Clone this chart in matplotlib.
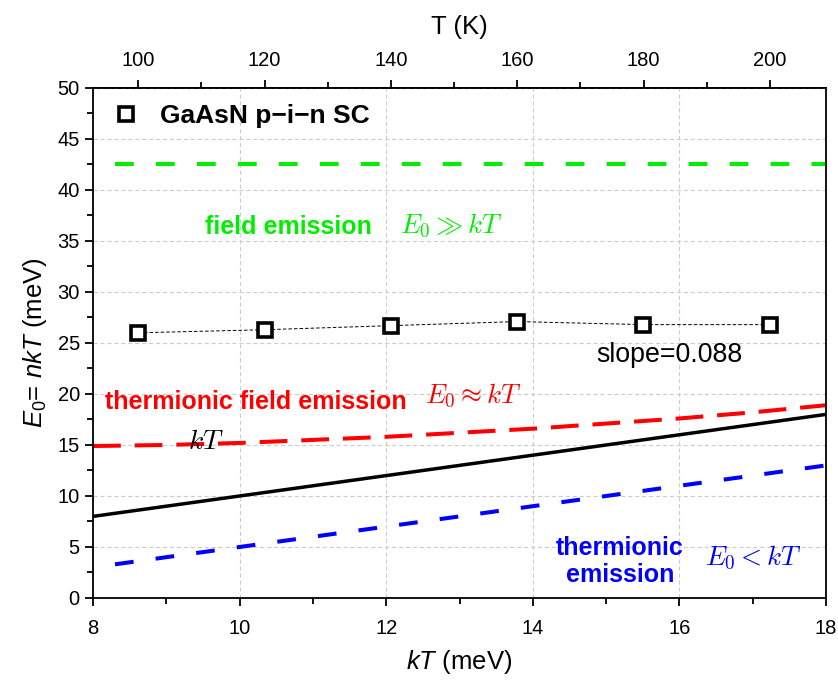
import numpy as np
import matplotlib
matplotlib.use("Agg")
import matplotlib.pyplot as plt
from matplotlib.ticker import MultipleLocator, FixedLocator

plt.rcParams['font.family'] = ['Liberation Sans', 'DejaVu Sans']
plt.rcParams['mathtext.fontset'] = 'custom'
plt.rcParams['mathtext.rm'] = 'Liberation Sans'
plt.rcParams['mathtext.it'] = 'Liberation Sans:italic'
plt.rcParams['mathtext.bf'] = 'Liberation Sans:bold'
plt.rcParams['lines.scale_dashes'] = False

KB = 0.08617  # meV/K

# measured points
kT_data = [8.62, 10.34, 12.06, 13.79, 15.51, 17.23]
E0_data = [26.0, 26.3, 26.7, 27.1, 26.8, 26.8]

# guide lines
kT_field = [8.3, 18.0]
E0_field = [42.5, 42.5]

kT_tfe = [8, 9, 10, 11, 12, 13, 14, 15, 16, 17, 18]
E0_tfe = [14.9, 15.0, 15.2, 15.5, 15.8, 16.2, 16.6, 17.1, 17.6, 18.2, 18.9]

kT_line = [8.0, 18.0]
E0_line = [8.0, 18.0]

kT_te = [8.3, 18.0]
E0_te = [3.3, 13.0]

T_ticks = [100, 120, 140, 160, 180, 200]
T_minor = [100, 110, 120, 130, 140, 150, 160, 170, 180, 190, 200]

fig = plt.figure(figsize=(8.38, 6.8), dpi=100)
ax = fig.add_axes([0.111, 0.1206, 0.8747, 0.75])

ax.grid(True, color='#cccccc', linestyle=(0, (3, 2)), linewidth=0.8)
ax.set_axisbelow(True)

ax.plot(kT_field, E0_field, color='#00ee00', lw=2.9, dashes=(13.5, 16))
ax.plot(kT_tfe, E0_tfe, color='red', lw=2.9, dashes=(20, 10))
ax.plot(kT_line, E0_line, color='black', lw=2.5)
ax.plot(kT_te, E0_te, color='blue', lw=2.9, dashes=(13.5, 16))

ax.plot(kT_data, E0_data, color='black', lw=0.7, dashes=(2.5, 1.5))
ax.plot(kT_data, E0_data, ls='none', marker='s', ms=9.5, mfc='white', mec='black',
        mew=2.6, label='GaAsN p\u2212i\u2212n SC')

ax.set_xlim(8, 18)
ax.set_ylim(0, 50)
ax.xaxis.set_major_locator(MultipleLocator(2))
ax.xaxis.set_minor_locator(MultipleLocator(1))
ax.yaxis.set_major_locator(MultipleLocator(5))
ax.yaxis.set_minor_locator(MultipleLocator(2.5))
ax.tick_params(which='both', direction='out', labelsize=14.5, width=1.3, right=False, top=False)
ax.tick_params(which='major', length=6)
ax.tick_params(which='minor', length=4)
ax.tick_params(axis='x', pad=9)
for s in ax.spines.values():
    s.set_linewidth(1.3)

ax.set_xlabel('$kT$ (meV)', fontsize=18.5, labelpad=7)
ax.set_ylabel('$E_0$= $nkT$ (meV)', fontsize=18.5, labelpad=6)

top = ax.secondary_xaxis('top', functions=(lambda k: k / KB, lambda t: t * KB))
top.xaxis.set_major_locator(FixedLocator(T_ticks))
top.xaxis.set_minor_locator(FixedLocator(T_minor))
top.tick_params(which='both', direction='out', labelsize=14.5, width=1.3, pad=7)
top.tick_params(which='major', length=6)
top.tick_params(which='minor', length=4)
top.set_xlabel('T (K)', fontsize=18.5, labelpad=12)
top.spines['top'].set_linewidth(1.3)

leg = ax.legend(loc='upper left', frameon=False, handlelength=1.0, handletextpad=0.8,
                prop={'weight': 'bold', 'size': 19}, borderaxespad=0.3, borderpad=0.3,
                bbox_to_anchor=(0.005, 1.0))

ax.text(10.66, 36.4, 'field emission', color='#00ee00', fontsize=18, fontweight='bold',
        ha='center', va='center')
ax.text(12.19, 36.6, r'$E_0 \gg kT$', color='#00ee00', fontsize=19.5, math_fontfamily='cm',
        ha='left', va='center')
ax.text(10.22, 19.2, 'thermionic field emission', color='red', fontsize=18, fontweight='bold',
        ha='center', va='center')
ax.text(12.53, 19.9, r'$E_0 \approx kT$', color='red', fontsize=19.5, math_fontfamily='cm',
        ha='left', va='center')
ax.text(9.54, 15.3, r'$kT$', color='black', fontsize=20, math_fontfamily='cm',
        ha='center', va='center')
ax.text(15.86, 23.8, 'slope=0.088', color='black', fontsize=19.3, ha='center', va='center')
ax.text(15.19, 3.6, 'thermionic\nemission', color='blue', fontsize=18, fontweight='bold',
        ha='center', va='center', linespacing=1.15)
ax.text(16.35, 4.0, r'$E_0 < kT$', color='blue', fontsize=19.5, math_fontfamily='cm',
        ha='left', va='center')

fig.savefig('out.png', dpi=100)
